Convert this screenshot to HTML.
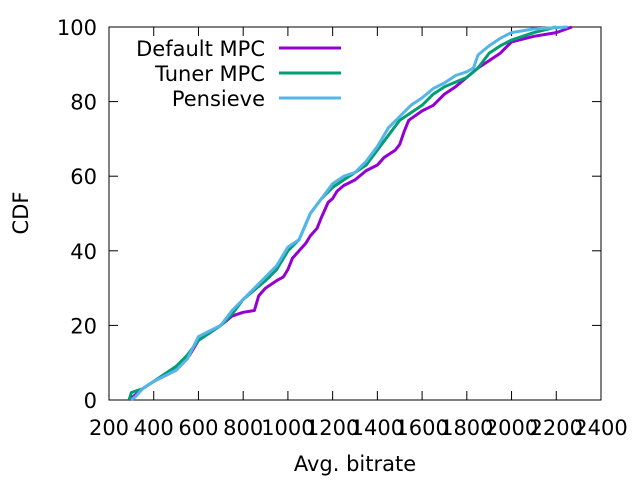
<!DOCTYPE html>
<html><head><meta charset="utf-8"><style>
html,body{margin:0;padding:0;background:#fff;}
svg{display:block;font-family:"DejaVu Sans","Liberation Sans",sans-serif;}
</style></head><body>
<svg id="chart" width="640" height="480" viewBox="0 0 640 480" xmlns="http://www.w3.org/2000/svg"></svg>
<script>
const xTicks=[200,400,600,800,1000,1200,1400,1600,1800,2000,2200,2400];
const yTicks=[0,20,40,60,80,100];
const seriesNames=["Default MPC","Tuner MPC","Pensieve"];
const seriesColors=["#9400d3","#009e73","#56b4e9"];
const defaultX=[290,310,350,400,450,500,530,560,600,650,700,750,800,850,870,900,950,980,1000,1020,1050,1080,1100,1130,1150,1180,1200,1220,1250,1300,1350,1400,1430,1480,1500,1520,1540,1600,1650,1700,1750,1800,1850,1900,1950,2000,2100,2200,2270];
const defaultY=[0,1,3,5,6.5,8,10,12,16,18,20,22.5,23.5,24,28,30,32,33,35,38,40,42,44,46,49,53,54,56,57.5,59,61.5,63,65,67,68.5,72,75,77.5,79,82,84,86.5,89,91,93,96,97.5,98.5,100];
const tunerX=[290,300,350,400,450,500,550,600,700,750,800,900,950,1000,1050,1100,1150,1200,1250,1300,1350,1400,1450,1500,1550,1600,1650,1700,1800,1850,1900,1950,2000,2100,2200];
const tunerY=[0,2,3,5,7,9,12,16,20,23,27,32,35,40,43,50,54,57,59,61,63,67,71,75,77,79,82,84,86.5,89,93,95,96.5,98.5,100];
const pensX=[300,320,350,400,450,500,550,600,700,750,800,900,950,1000,1050,1100,1150,1200,1250,1300,1350,1400,1450,1500,1550,1600,1650,1700,1750,1800,1830,1850,1900,1950,2000,2100,2250];
const pensY=[0,1,3,5,6.5,8,11,17,20,24,27,33,36,41,43,50,54,58,60,61,64,68,73,76,79,81,83.5,85,87,88,89,92.5,95,97,98.5,99.5,100];

const L=109,R=601,T=27,B=400;
const FS=21;
const sx=v=>L+(v-200)/(2400-200)*(R-L);
const sy=v=>B-v/100*(B-T);
const svg=document.getElementById('chart');
const NS="http://www.w3.org/2000/svg";
function mk(tag,attrs,parent){const e=document.createElementNS(NS,tag);for(const k in attrs)e.setAttribute(k,attrs[k]);(parent||svg).appendChild(e);return e;}

xTicks.forEach(t=>{
  const g=mk('g',{});
  
  
  const x=sx(t);
  mk('line',{x1:x,y1:B,x2:x,y2:B-9,stroke:'#000','stroke-width':1},g);
  mk('line',{x1:x,y1:T,x2:x,y2:T+9,stroke:'#000','stroke-width':1},g);
  const tx=mk('text',{x:x,y:B+35,'text-anchor':'middle','font-size':FS,fill:'#000'},g);
  tx.textContent=t;
});
yTicks.forEach(t=>{
  const g=mk('g',{});
  
  
  const y=sy(t);
  mk('line',{x1:L,y1:y,x2:L+9,y2:y,stroke:'#000','stroke-width':1},g);
  mk('line',{x1:R,y1:y,x2:R-9,y2:y,stroke:'#000','stroke-width':1},g);
  const tx=mk('text',{x:97,y:y+8,'text-anchor':'end','font-size':FS,fill:'#000'},g);
  tx.textContent=t;
});
const frame=mk('rect',{x:L,y:T,width:R-L,height:B-T,fill:'none',stroke:'#000','stroke-width':1});



const xs=[defaultX,tunerX,pensX], ys=[defaultY,tunerY,pensY];
const ids=['default-mpc','tuner-mpc','pensieve'];
xs.forEach((X,i)=>{
  const pts=X.map((v,j)=>sx(v).toFixed(1)+','+sy(ys[i][j]).toFixed(1)).join(' ');
  const p=mk('polyline',{points:pts,fill:'none',stroke:seriesColors[i],'stroke-width':3,'stroke-linejoin':'round'});
  
  
});
seriesNames.forEach((n,i)=>{
  const g=mk('g',{});
  
  
  const y=48+i*25;
  const tx=mk('text',{x:265,y:y+8,'text-anchor':'end','font-size':FS,fill:'#000'},g);
  tx.textContent=n;
  mk('line',{x1:279,y1:y,x2:341,y2:y,stroke:seriesColors[i],'stroke-width':3},g);
});
const xt=mk('text',{x:355,y:471,'text-anchor':'middle','font-size':FS,fill:'#000'});
xt.textContent='Avg. bitrate';


const yt=mk('text',{x:0,y:0,'text-anchor':'middle','font-size':FS,fill:'#000',transform:'translate(28,213) rotate(-90)'});
yt.textContent='CDF';


</script>
</body></html>
